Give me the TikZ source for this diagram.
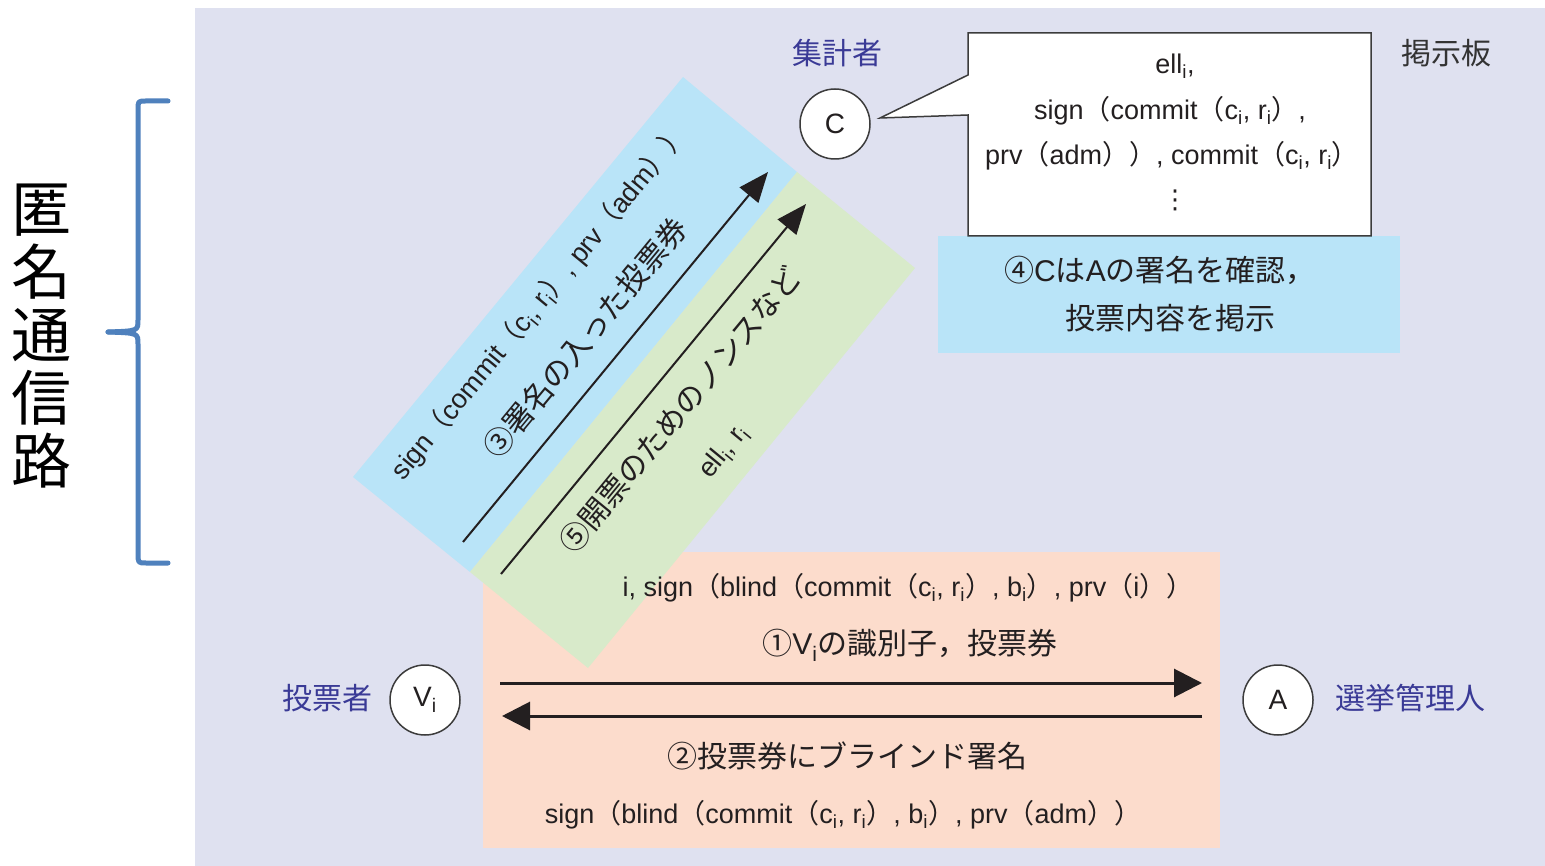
\documentclass[tikz,border=0pt]{standalone}
\usepackage{fontspec}
\setmainfont{Liberation Sans}
\newfontfamily\jp{Noto Sans CJK JP}
\newfontfamily\la{Liberation Sans}
\newfontfamily\dv{DejaVu Sans}
\usetikzlibrary{arrows.meta}
\definecolor{bgl}{RGB}{223,225,240}
\definecolor{bandblue}{RGB}{185,228,248}
\definecolor{bandgreen}{RGB}{216,234,202}
\definecolor{salmon}{RGB}{252,220,204}
\definecolor{lblue}{RGB}{58,58,150}
\definecolor{braceblue}{RGB}{79,129,189}
\definecolor{txt}{RGB}{35,31,32}
\definecolor{circ}{RGB}{60,60,60}
\newcommand\sbi{\textsubscript{i}}
\newcommand\LP{{\jp （}}
\newcommand\RP{{\jp ）}}
\tikzset{
  lat/.style={font=\la\fontsize{27}{32}\selectfont, text=txt, inner sep=0pt},
  jpt/.style={font=\jp\fontsize{30}{36}\selectfont, text=txt, inner sep=0pt},
  lbl/.style={font=\jp\fontsize{30}{36}\selectfont, text=lblue, inner sep=0pt},
  party/.style={circle, draw=circ, line width=1.5pt, fill=white, minimum size=70pt, inner sep=0pt, font=\la\fontsize{28}{30}\selectfont, text=txt},
  harrow/.style={line width=3pt, draw=txt, -{Triangle[length=28pt,width=28pt]}},
  darrow/.style={line width=2pt, draw=txt, -{Triangle[length=30pt,width=24pt]}},
  bracestyle/.style={draw=braceblue, line width=5pt, line cap=round, line join=round},
}
\begin{document}
\begin{tikzpicture}[x=1pt,y=-1pt]
\useasboundingbox (0,0) rectangle (1545,866);
\fill[white] (0,0) rectangle (1545,866);
\fill[bgl] (195,8) rectangle (1545,866);
% salmon area
\fill[salmon] (483,552) rectangle (1220,848);
% diagonal bands
\fill[bandblue] (683,77) -- (797,172) -- (470,572) -- (353,477) -- cycle;
\fill[bandgreen] (797,172) -- (915,268) -- (588,668) -- (470,572) -- cycle;
% board
\fill[bandblue] (938,236) rectangle (1400,353);
\filldraw[fill=white, draw=circ, line width=1.5pt] (968,33) -- (1371,33) -- (1371,236) -- (968,236) -- (968,115) -- (880,118) -- (968,75) -- cycle;
% brace
\draw[bracestyle] (168,101) -- (146,101) .. controls (138,101) .. (138,110) -- (138,320) .. controls (138,331) .. (108,332);
\draw[bracestyle] (108,332) .. controls (138,333) .. (138,344) -- (138,553) .. controls (138,563) .. (146,563) -- (168,563);
\node[font=\jp\fontsize{60}{63}\selectfont, align=center, text=black, inner sep=0pt] (anon) at (42,336) {匿\\名\\通\\信\\路};
% parties
\node[party] (C) at (835,124) {C};
\node[party] (V) at (425,700) {V\sbi};
\node[party] (A) at (1278,700) {A};
\node[lbl] (Clbl) at (837,53) {集計者};
\node[lbl] (Vlbl) at (327,698) {投票者};
\node[lbl] (Albl) at (1410,698) {選挙管理人};
\node[jpt, text=black!80] (board) at (1446,53) {掲示板};
% board text
\node[lat] (b1) at (1175,66) {ell\sbi,};
\node[lat] (b2) at (1170,111) {sign\LP commit\LP c\sbi, r\sbi\RP,};
\node[lat] (b3) at (1172,156) {prv\LP adm\RP\RP, commit\LP c\sbi, r\sbi\RP};
\node[lat, font=\dv\fontsize{26}{30}\selectfont] (b4) at (1175,200) {⋮};
\node[jpt] (s4a) at (1160,270) {④{\la C}は{\la A}の署名を確認，};
\node[jpt] (s4b) at (1170,318) {投票内容を掲示};
% diagonal texts
\node[lat, rotate=50.5] (t1) at (540,302) {sign\LP commit\LP c\sbi, r\sbi\RP, prv\LP adm\RP\RP};
\node[jpt, rotate=50.5] (t2) at (585,338) {③署名の入った投票券};
\node[jpt, rotate=50.5] (t3) at (680,410) {⑤開票のためのノンスなど};
\node[lat, rotate=50.5] (t4) at (724,452) {ell\sbi, r\sbi};
% bottom texts
\node[lat] (m1) at (908,588) {i, sign\LP blind\LP commit\LP c\sbi, r\sbi\RP, b\sbi\RP, prv\LP i\RP\RP};
\node[jpt] (m2) at (910,645) {①{\la V\sbi}の識別子，投票券};
\node[jpt] (m3) at (847,756) {②投票券にブラインド署名};
\node[lat] (m4) at (843,815) {sign\LP blind\LP commit\LP c\sbi, r\sbi\RP, b\sbi\RP, prv\LP adm\RP\RP};
% arrows
\coordinate (h1s) at (500,683);
\coordinate (h1e) at (1202,683);
\coordinate (h2s) at (1202,716);
\coordinate (h2e) at (502,716);
\draw[harrow] (h1s) -- (h1e);
\draw[harrow] (h2s) -- (h2e);
\coordinate (d1s) at (463,542);
\coordinate (d1e) at (768,172);
\coordinate (d2s) at (501,574);
\coordinate (d2e) at (806,204);
\draw[darrow] (d1s) -- (d1e);
\draw[darrow] (d2s) -- (d2e);
\end{tikzpicture}
\end{document}
